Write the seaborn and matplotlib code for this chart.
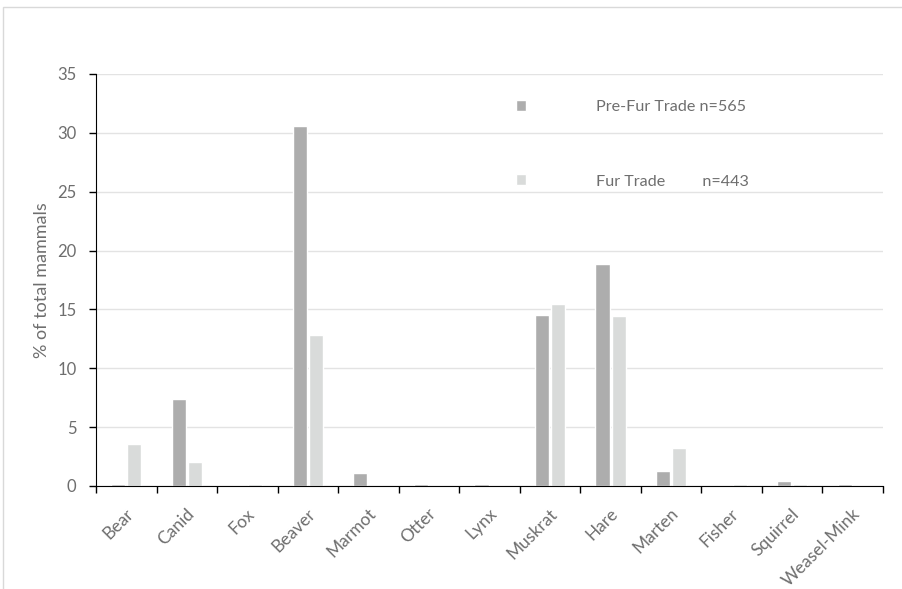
import matplotlib.pyplot as plt
import matplotlib.patches as mpatches
import matplotlib.transforms as mtransforms
from matplotlib.ticker import FixedLocator
import seaborn as sns
import pandas as pd
import numpy as np

# data
taxa = ['Bear', 'Canid', 'Fox', 'Beaver', 'Marmot', 'Otter', 'Lynx',
        'Muskrat', 'Hare', 'Marten', 'Fisher', 'Squirrel', 'Weasel-Mink']
pre_fur = [0.2, 7.4, 0.0, 30.6, 1.1, 0.2, 0.2, 14.5, 18.9, 1.3, 0.0, 0.4, 0.2]
fur_trade = [3.6, 2.0, 0.2, 12.8, 0.0, 0.0, 0.0, 15.5, 14.4, 3.2, 0.2, 0.2, 0.0]
periods = ['Pre-Fur Trade n=565', 'Fur Trade         n=443']

df = pd.DataFrame({
    'taxon': taxa * 2,
    'pct': pre_fur + fur_trade,
    'period': [periods[0]] * len(taxa) + [periods[1]] * len(taxa),
})

sns.set_style('white')
plt.rcParams['font.family'] = ['Lato', 'DejaVu Sans']
txt = '#6e6e6e'

fig = plt.figure(figsize=(9.02, 5.89), dpi=100)
ax = fig.add_axes([0.1064, 0.1749, 0.8725, 0.6995])

sns.barplot(data=df, x='taxon', y='pct', hue='period', order=taxa,
            hue_order=periods, palette=['#adadad', '#d9dbda'],
            width=0.53, gap=0.12, ax=ax, legend=True)

ax.set_ylim(0, 35)
ax.set_xlim(-0.5, len(taxa) - 0.5)
ax.set_yticks(np.arange(0, 36, 5))
ax.yaxis.grid(True, color='#e3e3e3', linewidth=1)
ax.set_axisbelow(True)
for s in ['top', 'right']:
    ax.spines[s].set_visible(False)
ax.spines['left'].set_color('black')
ax.spines['bottom'].set_color('black')

# ticks between the categories
ax.xaxis.set_minor_locator(FixedLocator(np.arange(-0.5, len(taxa), 1)))
ax.tick_params(axis='x', which='major', length=0, pad=14)
ax.tick_params(axis='x', which='minor', length=5, width=1, color='black',
               direction='out', bottom=True)
ax.tick_params(axis='y', length=5, width=1, color='black', direction='out',
               left=True, labelsize=12, labelcolor=txt, pad=9)
ax.set_xticks(range(len(taxa)))
ax.set_xticklabels(taxa, rotation=45, ha='right', rotation_mode='anchor',
                   fontsize=12.5, color=txt)
shift = mtransforms.ScaledTranslation(-1 / 100, 0, fig.dpi_scale_trans)
for lab in ax.get_xticklabels():
    lab.set_transform(lab.get_transform() + shift)

ax.set_xlabel('')
ax.set_ylabel('% of total mammals', fontsize=13, color=txt, labelpad=5)

handles, labels = ax.get_legend_handles_labels()
leg = ax.legend(handles, labels, loc='upper left',
                bbox_to_anchor=(0.515, 0.972), frameon=False,
                handlelength=0.65, handleheight=0.65, handletextpad=4.3,
                labelspacing=3.75, fontsize=11.6, labelcolor=txt)

# light border around the chart area
fig.patches.append(mpatches.Rectangle((3 / 902, -0.1), 1.1, 1 - 7 / 589 + 0.1,
                                      transform=fig.transFigure,
                                      fill=False, edgecolor='#d9d9d9',
                                      linewidth=1))

fig.savefig('out.png', dpi=100)
